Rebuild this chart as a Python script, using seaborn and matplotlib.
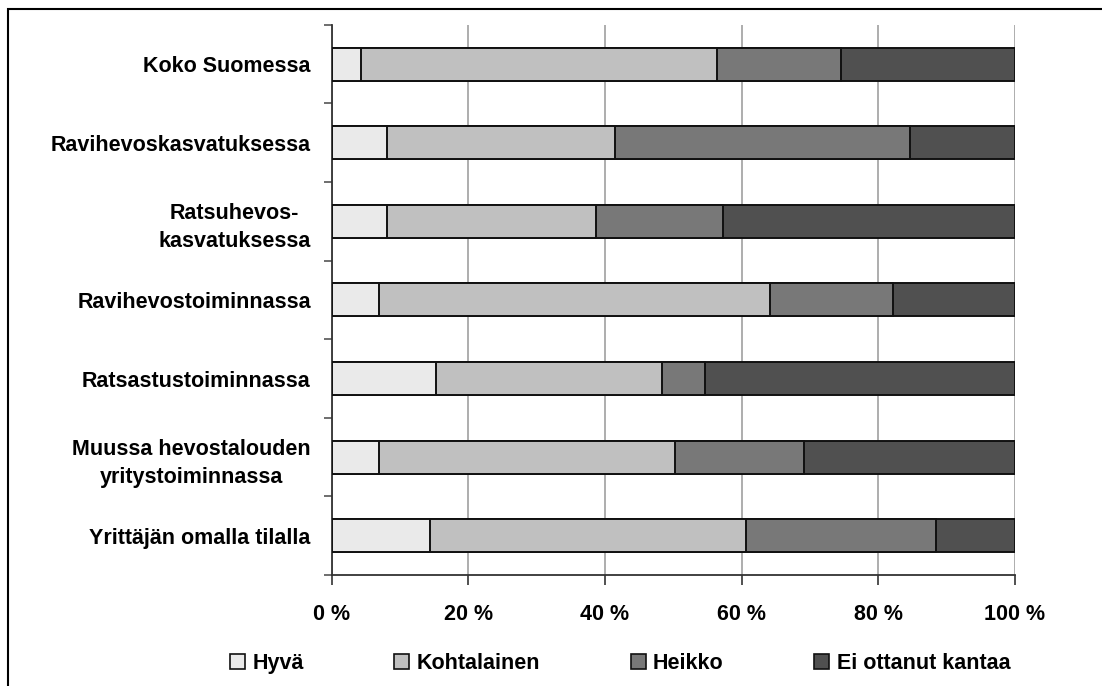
import pandas as pd
import numpy as np
import matplotlib
matplotlib.use('Agg')
import matplotlib.pyplot as plt
import seaborn as sns
from matplotlib.patches import Rectangle, Patch

# Data (% of answers)
categories = ['Koko Suomessa', 'Ravihevoskasvatuksessa', 'Ratsuhevos-\nkasvatuksessa',
              'Ravihevostoiminnassa', 'Ratsastustoiminnassa',
              'Muussa hevostalouden\nyritystoiminnassa', 'Yrittäjän omalla tilalla']
series = ['Hyvä', 'Kohtalainen', 'Heikko', 'Ei ottanut kantaa']
hyva = [4.3, 8.1, 8.1, 6.9, 15.3, 6.9, 14.4]
kohtalainen = [52.1, 33.3, 30.6, 57.3, 33.0, 43.4, 46.3]
heikko = [18.2, 43.3, 18.6, 17.9, 6.4, 18.8, 27.8]
ei_kantaa = [25.4, 15.3, 42.7, 17.9, 45.3, 30.9, 11.5]
colors = ['#eaeaea', '#c0c0c0', '#787878', '#505050']

df = pd.DataFrame({'kategoria': categories, 'Hyvä': hyva, 'Kohtalainen': kohtalainen,
                   'Heikko': heikko, 'Ei ottanut kantaa': ei_kantaa})
cum = df[series].cumsum(axis=1)

sns.set_style('white')
plt.rcParams['font.family'] = ['Liberation Sans', 'DejaVu Sans']
plt.rcParams['font.weight'] = 'bold'
plt.rcParams['text.color'] = 'black'
plt.rcParams['xtick.labelcolor'] = 'black'
plt.rcParams['ytick.labelcolor'] = 'black'

fig = plt.figure(figsize=(11.02, 6.86), dpi=100)
ax = fig.add_axes([0.301, 0.1618, 0.62, 0.802])

# stacked bars: draw cumulative totals from the largest down
for s, c in reversed(list(zip(series, colors))):
    sns.barplot(x=cum[s], y=df['kategoria'], color=c, width=0.42,
                edgecolor='#111111', linewidth=1.4, saturation=1, ax=ax, zorder=3)

ax.set_xlim(0, 100)
ax.set_ylim(6.5, -0.5)
ax.set_xticks([0, 20, 40, 60, 80, 100])
ax.set_xticklabels(['0 %', '20 %', '40 %', '60 %', '80 %', '100 %'])
ax.set_xlabel('')
ax.set_ylabel('')
ax.xaxis.grid(True, color='#a0a0a0', linewidth=1.2, zorder=0)
ax.set_axisbelow(True)

for side in ['top', 'right']:
    ax.spines[side].set_visible(False)
for side in ['left', 'bottom']:
    ax.spines[side].set_color('#333333')
    ax.spines[side].set_linewidth(1.3)

ax.tick_params(axis='x', direction='out', length=7, width=1.2, color='#333333',
               labelsize=15.5, pad=14, bottom=True)
ax.tick_params(axis='y', which='major', length=0, labelsize=15.5, pad=15)
ax.set_yticks(np.arange(-0.5, 7, 1), minor=True)
ax.tick_params(axis='y', which='minor', direction='out', length=6, width=1.2,
               color='#555555', left=True)
for lab in ax.get_yticklabels():
    lab.set_multialignment('center')
    lab.set_linespacing(1.45)
    lab.set_fontweight('bold')
for lab in ax.get_xticklabels():
    lab.set_fontweight('bold')

handles = [Patch(facecolor=c, edgecolor='#111111', linewidth=1.2) for c in colors]
fig.legend(handles, series, loc='center', bbox_to_anchor=(620 / 1102, 0.033), ncol=4,
           frameon=False, handlelength=0.7, handleheight=0.7,
           handletextpad=0.35, columnspacing=4.2, prop={'weight': 'bold', 'size': 15.5})

# outer frame (cut off on the right and bottom like the original)
fig.patches.append(Rectangle((8 / 1102, -0.2), 1.2, 1.2 - 9 / 686, transform=fig.transFigure,
                             fill=False, edgecolor='black', linewidth=1.5, clip_on=False))

fig.savefig('out.png', dpi=100)
